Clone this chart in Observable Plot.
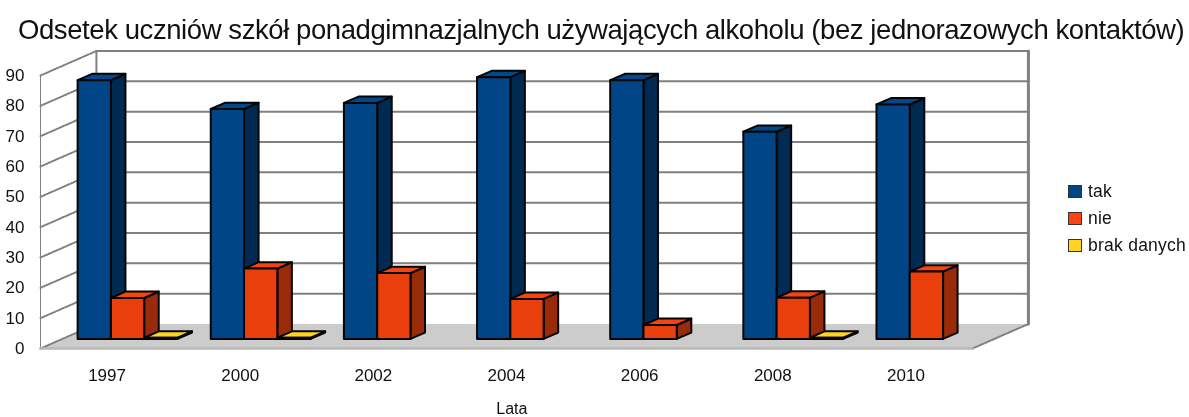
<!DOCTYPE html>
<html><head><meta charset="utf-8">
<script src="https://cdn.jsdelivr.net/npm/d3@7"></script>
<script src="https://cdn.jsdelivr.net/npm/@observablehq/plot@0.6"></script>
<style>
html,body{margin:0;padding:0;background:#fff;width:1189px;height:417px;overflow:hidden;position:relative;font-family:"Liberation Sans",Arial,sans-serif;color:#111}
#title{height:44px;box-sizing:border-box;padding-top:15px;padding-left:18px;font-size:27.5px;line-height:30px;white-space:nowrap;letter-spacing:-.42px;filter:blur(.25px)}
#chart svg{display:block;filter:blur(.35px);font-family:"Liberation Sans",Arial,sans-serif}
#chart text{fill:#111}
#legend{position:absolute;left:1068px;top:178px;font-size:17.5px;line-height:27px;filter:blur(.25px);letter-spacing:.25px}
#legend div{white-space:nowrap;display:flex;align-items:center}
#legend i{display:inline-block;width:12px;height:11px;border:1.5px solid #333;margin-right:6px}
</style></head><body>
<div id="title">Odsetek uczniów szkół ponadgimnazjalnych używających alkoholu (bez jednorazowych kontaktów)</div>
<div id="chart"></div>
<div id="legend"></div>
<script>
const years = ["1997","2000","2002","2004","2006","2008","2010"];
const tak = [85.3,75.8,77.8,86.3,85.3,68.3,77.3];
const nie = [13.5,23.2,21.7,13.2,4.6,13.6,22.2];
const brakDanych = [0.4,0.4,0,0,0,0.4,0];
const seriesNames = ["tak","nie","brak danych"];
const frontColors = ["#004586","#e83f0d","#ffd320"];
const topColors = ["#00488c","#f5440f","#ffd320"];
const sideColors = ["#002a52","#992a0a","#8f7a12"];
const legendColors = ["#004586","#ff420e","#ffd320"];
const gridValues = [10,20,30,40,50,60,70,80,90];

// oblique projection: depth z in 0..1 shifts right and up, in axis units
const DX = 0.42, DY = 8.08;
const P = (x, v, z) => ({x: x + z * DX, y: v + z * DY});
const BAR = 0.25, GAP = 0.115, Z0 = 0.39, Z1 = 0.65;
const poly = pts => [...pts, pts[0]];

const edge = {stroke: "#050505", strokeWidth: 2, strokeLinejoin: "round", x: "x", y: "y"};
const bars = [];
const valuesBySeries = [tak, nie, brakDanych];
years.forEach((_, i) => {
  valuesBySeries.forEach((vals, j) => {
    const v = vals[i];
    if (!v) return;
    const a = i + GAP + j * BAR, b = a + BAR;
    bars.push(
      Plot.line(poly([P(b,0,Z0),P(b,0,Z1),P(b,v,Z1),P(b,v,Z0)]), {...edge, fill: sideColors[j]}),
      Plot.line(poly([P(a,v,Z0),P(b,v,Z0),P(b,v,Z1),P(a,v,Z1)]), {...edge, fill: topColors[j]}),
      Plot.line(poly([P(a,0,Z0),P(b,0,Z0),P(b,v,Z0),P(a,v,Z0)]), {...edge, fill: frontColors[j]})
    );
  });
});

const gray = "#808080";
const backGrid = gridValues.map(v => Plot.line([P(0,v,1),P(7,v,1)], {x:"x",y:"y",stroke:gray,strokeWidth:2}));
const sideGrid = [0,...gridValues].map(v => Plot.line([P(0,v,0),P(0,v,1)], {x:"x",y:"y",stroke:gray,strokeWidth:2,strokeDasharray:"1.5 1.5"}));

const chart = Plot.plot({
  width: 1189, height: 373,
  marginLeft: 40, marginRight: 217, marginTop: 31, marginBottom: 69,
  x: {domain: [0, 7], axis: null},
  y: {domain: [0, 90], axis: null},
  marks: [
    Plot.line(poly([P(0,0,0),P(7,0,0),P(7,0,1),P(0,0,1)]), {x:"x",y:"y",fill:"#cccccc"}),
    ...backGrid,
    ...sideGrid,
    Plot.line([P(0,0,0),P(0,90,0)], {x:"x",y:"y",stroke:gray,strokeWidth:1}),
    Plot.line([P(0,0,1),P(0,90,1)], {x:"x",y:"y",stroke:gray,strokeWidth:2}),
    Plot.line([P(7,0,1),P(7,90,1)], {x:"x",y:"y",stroke:gray,strokeWidth:3}),
    Plot.line([P(7,0,0),P(7,0,1)], {x:"x",y:"y",stroke:gray,strokeWidth:2,strokeDasharray:"1.5 1.5"}),
    Plot.line([P(0,0,0),P(7,0,0)], {x:"x",y:"y",stroke:"#b8b8b8",strokeWidth:2.5}),
    ...bars,
    Plot.axisY({ticks:[0,...gridValues], tickSize:0, tickPadding:16, fontSize:17, label:null}),
    Plot.axisX({ticks:years.map((_,i)=>i+.5), tickFormat:t=>years[Math.floor(t)], tickSize:0, tickPadding:20, fontSize:17, label:null}),
    Plot.text(["Lata"], {x:3.54, frameAnchor:"bottom", dy:65, fontSize:16, fill:"#111"})
  ]
});
document.getElementById("chart").append(chart);

const legend = document.getElementById("legend");
seriesNames.forEach((n,j)=>{
  const d=document.createElement("div");
  const s=document.createElement("i"); s.style.background=legendColors[j];
  d.append(s,document.createTextNode(n)); legend.append(d);
});
</script>
</body></html>
